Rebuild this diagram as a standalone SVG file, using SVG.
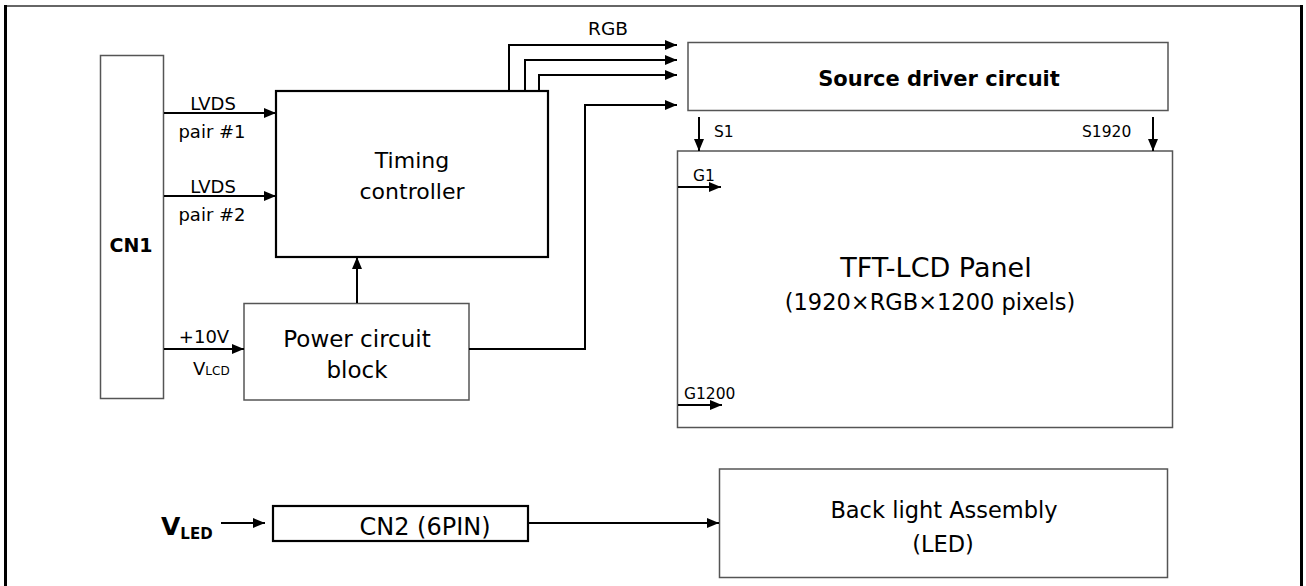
<svg xmlns="http://www.w3.org/2000/svg" width="1306" height="586" viewBox="0 0 1306 586">
<style>
text{font-family:"DejaVu Sans","Verdana",sans-serif;fill:#000}
.b{font-weight:bold}
.box{fill:#fff;stroke:#555;stroke-width:1.5}
.boxk{fill:#fff;stroke:#000;stroke-width:2.2}
.c{fill:none;stroke:#000;stroke-width:2}
.m{text-anchor:middle}
</style>
<defs>
<marker id="ah" markerUnits="userSpaceOnUse" markerWidth="14" markerHeight="12" refX="12" refY="5" orient="auto">
<path d="M0,0 L12,5 L0,10 Z" fill="#000"/>
</marker>
</defs>
<rect width="1306" height="586" fill="#fff"/>
<g id="frame">
<line x1="5" y1="6" x2="1302" y2="6" stroke="#666" stroke-width="2"/>
<line x1="5.5" y1="5" x2="5.5" y2="586" stroke="#000" stroke-width="3"/>
<line x1="1301.5" y1="5" x2="1301.5" y2="586" stroke="#000" stroke-width="3"/>
</g>
<g id="cn1">
<rect class="box" x="100.5" y="55.5" width="63" height="343"/>
<text class="b m" x="131" y="252" font-size="19">CN1</text>
</g>
<g id="timing">
<rect class="boxk" x="276" y="91" width="272" height="166"/>
<text class="m" x="412" y="168" font-size="22">Timing</text>
<text class="m" x="412" y="199" font-size="22">controller</text>
</g>
<g id="power">
<rect class="box" x="244" y="303.5" width="225" height="96.5"/>
<text class="m" x="357" y="347" font-size="23">Power circuit</text>
<text class="m" x="357" y="378" font-size="23">block</text>
</g>
<g id="source">
<rect class="box" x="688" y="42.5" width="480" height="68"/>
<text class="b m" x="939" y="86" font-size="21">Source driver circuit</text>
</g>
<g id="panel">
<rect class="box" x="677.5" y="151" width="495" height="276.5"/>
<text class="m" x="936" y="277" font-size="27">TFT-LCD Panel</text>
<text class="m" x="930" y="310" font-size="22.5">(1920×RGB×1200 pixels)</text>
</g>
<g id="cn2">
<rect class="boxk" x="273" y="506" width="255" height="35"/>
<text class="m" x="425" y="535" font-size="24">CN2 (6PIN)</text>
</g>
<g id="backlight">
<rect class="box" x="719.5" y="469" width="448" height="108.5"/>
<text class="m" x="944" y="518" font-size="22.5">Back light Assembly</text>
<text class="m" x="943" y="552" font-size="22.5">(LED)</text>
</g>
<g id="connectors">
<path class="c" d="M164,113 H276" marker-end="url(#ah)"/>
<path class="c" d="M164,196 H276" marker-end="url(#ah)"/>
<path class="c" d="M164,349 H244" marker-end="url(#ah)"/>
<path class="c" d="M357,303 V257" marker-end="url(#ah)"/>
<path class="c" d="M469,349 H585 V105 H677" marker-end="url(#ah)"/>
<path class="c" d="M509,91 V45 H677" marker-end="url(#ah)"/>
<path class="c" d="M525,91 V60 H677" marker-end="url(#ah)"/>
<path class="c" d="M539,91 V75 H677" marker-end="url(#ah)"/>
<path class="c" d="M699,117 V151" marker-end="url(#ah)"/>
<path class="c" d="M1153,117 V151" marker-end="url(#ah)"/>
<path class="c" d="M678,187 H721" marker-end="url(#ah)"/>
<path class="c" d="M678,405 H722" marker-end="url(#ah)"/>
<path class="c" d="M221,523 H265" marker-end="url(#ah)"/>
<path class="c" d="M528,523 H719" marker-end="url(#ah)"/>
</g>
<g id="labels">
<text class="m" x="213" y="110" font-size="18">LVDS</text>
<text class="m" x="212" y="138" font-size="18">pair #1</text>
<text class="m" x="213" y="193" font-size="18">LVDS</text>
<text class="m" x="212" y="221" font-size="18">pair #2</text>
<text class="m" x="204" y="343" font-size="18">+10V</text>
<text x="193" y="375" font-size="18">V<tspan font-size="12">LCD</tspan></text>
<text class="m" x="608" y="35" font-size="18.5">RGB</text>
<text x="714" y="137" font-size="15.5">S1</text>
<text x="1082" y="137" font-size="15.5">S1920</text>
<text x="693" y="181" font-size="15.5">G1</text>
<text x="684" y="399" font-size="15.5">G1200</text>
<text class="b" x="161" y="535" font-size="25">V<tspan font-size="15" dy="4">LED</tspan></text>
</g>
</svg>
